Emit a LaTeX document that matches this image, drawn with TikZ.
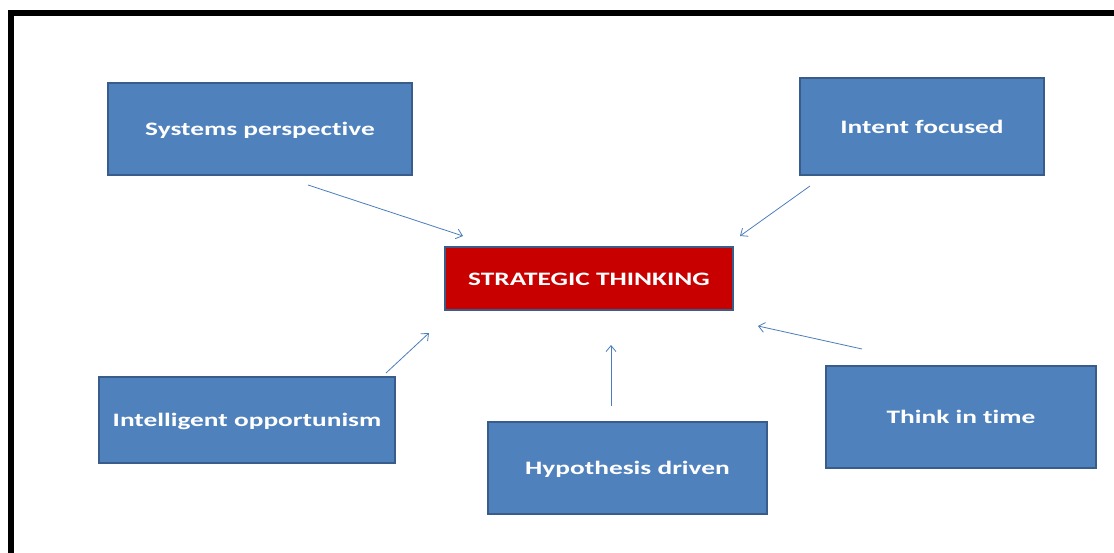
\documentclass[tikz,border=0pt]{standalone}
\usepackage{fontspec}
\setmainfont{Carlito}
\newfontfamily\boxfont[FakeStretch=1.44, Ligatures={NoCommon}]{Carlito Bold}
\usetikzlibrary{arrows.meta}
\definecolor{boxblue}{HTML}{4F81BD}
\definecolor{boxedge}{HTML}{385D8A}
\definecolor{boxred}{HTML}{C80000}
\definecolor{arrowblue}{HTML}{4A7EBB}
\tikzset{
  bluebox/.style={draw=boxedge, line width=1.6pt, fill=boxblue, text=white, font=\boxfont\fontsize{19}{22}\selectfont, inner sep=0pt, text height=16pt, text depth=2.8pt},
  redbox/.style={bluebox, fill=boxred},
  conn/.style={draw=arrowblue, line width=0.8pt, -{Straight Barb[length=6pt,width=10pt]}},
  frameline/.style={line width=6pt, draw=black}
}
\begin{document}
\begin{tikzpicture}[x=1pt,y=-1pt]
\useasboundingbox (0,0) rectangle (1114,553);
\draw[frameline] (11,553) -- (11,13) -- (1114,13);
\node[bluebox, minimum width=304pt, minimum height=92pt] (sys) at (260,129) {Systems perspective};
\node[bluebox, minimum width=244pt, minimum height=97pt] (int) at (922,126.5) {Intent focused};
\node[redbox, minimum width=288pt, minimum height=63pt] (st) at (589,278.5) {STRATEGIC THINKING};
\node[bluebox, minimum width=296pt, minimum height=86pt] (opp) at (247,420) {Intelligent opportunism};
\node[bluebox, minimum width=279pt, minimum height=92pt] (hyp) at (627.5,468) {Hypothesis driven};
\node[bluebox, minimum width=270pt, minimum height=102pt] (tim) at (961,417) {Think in time};
\coordinate (a1s) at (308,185); \coordinate (a1e) at (463,236);
\coordinate (a2s) at (810,186); \coordinate (a2e) at (740,236);
\coordinate (a3s) at (386,373); \coordinate (a3e) at (429,333);
\coordinate (a4s) at (611,406); \coordinate (a4e) at (611,345);
\coordinate (a5s) at (862,349); \coordinate (a5e) at (758,326);
\draw[conn] (a1s) -- (a1e);
\draw[conn] (a2s) -- (a2e);
\draw[conn] (a3s) -- (a3e);
\draw[conn] (a4s) -- (a4e);
\draw[conn] (a5s) -- (a5e);
\end{tikzpicture}
\end{document}
